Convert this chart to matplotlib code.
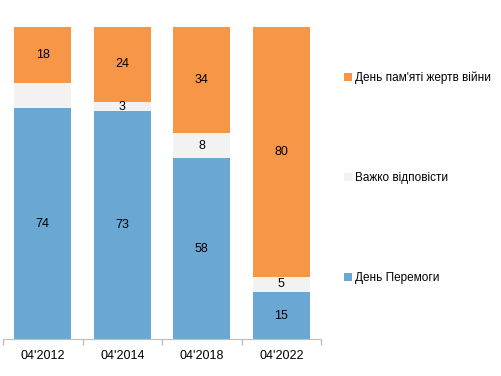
import matplotlib.pyplot as plt
import numpy as np

plt.rcParams['font.family'] = ['Liberation Sans', 'DejaVu Sans']

# survey waves
periods = ["04'2012", "04'2014", "04'2018", "04'2022"]
victory = [74, 73, 58, 15]       # День Перемоги
hard = [8, 3, 8, 5]              # Важко відповісти
memory = [18, 24, 34, 80]        # День пам'яті жертв війни
show_hard = [False, True, True, True]

c_blue = '#6aa8d3'
c_gray = '#f2f2f2'
c_orange = '#f79646'

fig = plt.figure(figsize=(5.01, 3.76), dpi=100)
ax = fig.add_axes([0.006, 0.0984, 0.635, 0.8298])

x = np.arange(len(periods))
w = 0.72
b1 = ax.bar(x, victory, w, color=c_blue, label='День Перемоги')
b2 = ax.bar(x, hard, w, bottom=victory, color=c_gray, label='Важко відповісти')
bottom2 = np.array(victory) + np.array(hard)
b3 = ax.bar(x, memory, w, bottom=bottom2, color=c_orange, label="День пам'яті жертв війни")

fs = 9
for i in range(len(x)):
    ax.text(x[i], victory[i] / 2, str(victory[i]), ha='center', va='center', fontsize=fs)
    if show_hard[i]:
        ax.text(x[i], victory[i] + hard[i] / 2, str(hard[i]), ha='center', va='center', fontsize=fs)
    ax.text(x[i], bottom2[i] + memory[i] / 2, str(memory[i]), ha='center', va='center', fontsize=fs)

ax.set_xlim(-0.5, 3.5)
ax.set_ylim(0, 100)
ax.set_xticks(x)
ax.set_xticklabels(periods, fontsize=fs)
ax.set_xticks(np.arange(-0.5, 4, 1), minor=True)
ax.tick_params(axis='x', which='major', length=0, pad=8)
ax.tick_params(axis='x', which='minor', length=4, color='#bfbfbf', width=1)
ax.set_yticks([])
for s in ['top', 'right', 'left']:
    ax.spines[s].set_visible(False)
ax.spines['bottom'].set_color('#bfbfbf')

leg = fig.legend(handles=[b3, b2, b1], loc='upper left', bbox_to_anchor=(0.665, 0.837),
                 frameon=False, fontsize=8.5, labelspacing=7.45,
                 handlelength=0.7, handleheight=0.7, handletextpad=0.25)

fig.savefig('out.png', dpi=100)
